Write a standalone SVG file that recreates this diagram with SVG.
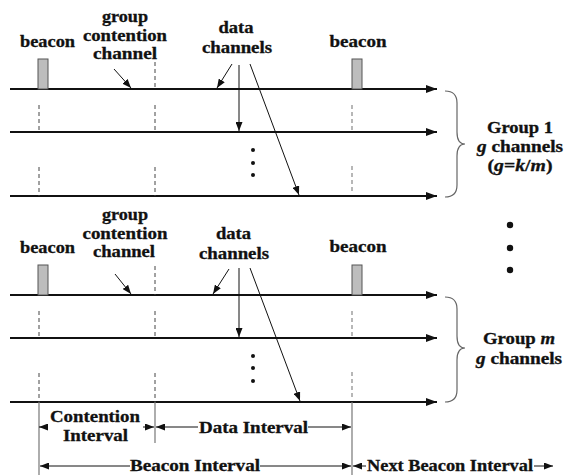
<svg xmlns="http://www.w3.org/2000/svg" width="565" height="475" viewBox="0 0 565 475">
<style>
text{font-family:"Liberation Serif","Times New Roman",serif;font-weight:bold;font-size:16px;fill:#111;stroke:#111;stroke-width:0.3;text-anchor:middle}
.ch{stroke:#111;stroke-width:1.8;fill:none}
.ds{stroke:#444;stroke-width:1;stroke-dasharray:4,3;fill:none}
.dsr{stroke:#888;stroke-width:1.2;stroke-dasharray:4,3;fill:none}
.ann{stroke:#111;stroke-width:1;fill:none}
.ext{stroke:#777;stroke-width:1.2;fill:none}
.bcn{fill:#bdbdbd;stroke:#555;stroke-width:1}
.br{stroke:#666;stroke-width:1.2;fill:none}
.dot{fill:#111}
</style>
<defs>
<marker id="big" markerUnits="userSpaceOnUse" markerWidth="11" markerHeight="8" refX="11" refY="4" orient="auto"><path d="M0,0 L11,4 L0,8 z" fill="#111"/></marker>
<marker id="sm" markerUnits="userSpaceOnUse" markerWidth="9" markerHeight="7" refX="9" refY="3.5" orient="auto"><path d="M0,0 L9,3.5 L0,7 z" fill="#111"/></marker>
</defs>

<g id="group1">
  <g id="g1-channels">
    <line class="ch" x1="10" y1="89" x2="437" y2="89" marker-end="url(#big)"/>
    <line class="ch" x1="10" y1="132" x2="437" y2="132" marker-end="url(#big)"/>
    <line class="ch" x1="10" y1="196" x2="437" y2="196" marker-end="url(#big)"/>
  </g>
  <g id="g1-beacons">
    <rect class="bcn" x="38" y="59" width="10" height="30"/>
    <rect class="bcn" x="352" y="59" width="10" height="30"/>
  </g>
  <g id="g1-dashes">
    <line class="ds" x1="39" y1="105" x2="39" y2="132"/>
    <line class="ds" x1="39" y1="167" x2="39" y2="196"/>
    <line class="ds" x1="155" y1="62" x2="155" y2="89"/>
    <line class="ds" x1="155" y1="105" x2="155" y2="132"/>
    <line class="ds" x1="155" y1="167" x2="155" y2="196"/>
    <line class="dsr" x1="352" y1="105" x2="352" y2="132"/>
    <line class="dsr" x1="352" y1="166" x2="352" y2="194"/>
  </g>
  <g id="g1-dots">
    <circle class="dot" cx="253" cy="150" r="2"/>
    <circle class="dot" cx="253" cy="163" r="2"/>
    <circle class="dot" cx="253" cy="175" r="2"/>
  </g>
  <g id="g1-labels">
    <text x="47.5" y="47" textLength="55" lengthAdjust="spacingAndGlyphs">beacon</text>
    <text x="125" y="22" textLength="46" lengthAdjust="spacingAndGlyphs">group</text>
    <text x="125" y="40.5" textLength="84" lengthAdjust="spacingAndGlyphs">contention</text>
    <text x="125" y="59" textLength="64" lengthAdjust="spacingAndGlyphs">channel</text>
    <text x="236" y="33" textLength="35" lengthAdjust="spacingAndGlyphs">data</text>
    <text x="237" y="53" textLength="70" lengthAdjust="spacingAndGlyphs">channels</text>
    <text x="358" y="47" textLength="57" lengthAdjust="spacingAndGlyphs">beacon</text>
  </g>
  <g id="g1-brace">
    <path class="br" d="M445,91 Q457,91 457,103 L457,132 Q457,144 465,144 Q457,144 457,156 L457,185 Q457,197 445,197"/>
    <text x="520" y="133" textLength="66" lengthAdjust="spacingAndGlyphs">Group 1</text>
    <text x="520" y="152" textLength="86" lengthAdjust="spacingAndGlyphs"><tspan font-style="italic">g</tspan> channels</text>
    <text x="520" y="171" textLength="65" lengthAdjust="spacingAndGlyphs">(<tspan font-style="italic">g</tspan>=<tspan font-style="italic">k</tspan>/<tspan font-style="italic">m</tspan>)</text>
  </g>
</g>

<g id="between-dots">
  <circle class="dot" cx="510" cy="225" r="3.2"/>
  <circle class="dot" cx="510" cy="248" r="3.2"/>
  <circle class="dot" cx="510" cy="270" r="3.2"/>
</g>

<g id="groupm">
  <g id="gm-channels">
    <line class="ch" x1="10" y1="295" x2="437" y2="295" marker-end="url(#big)"/>
    <line class="ch" x1="10" y1="338" x2="437" y2="338" marker-end="url(#big)"/>
    <line class="ch" x1="10" y1="402" x2="437" y2="402" marker-end="url(#big)"/>
  </g>
  <g id="gm-beacons">
    <rect class="bcn" x="38" y="265" width="10" height="30"/>
    <rect class="bcn" x="352" y="265" width="10" height="30"/>
  </g>
  <g id="gm-dashes">
    <line class="ds" x1="39" y1="311" x2="39" y2="338"/>
    <line class="ds" x1="39" y1="373" x2="39" y2="402"/>
    <line class="ds" x1="155" y1="266" x2="155" y2="295"/>
    <line class="ds" x1="155" y1="311" x2="155" y2="338"/>
    <line class="ds" x1="155" y1="373" x2="155" y2="402"/>
    <line class="dsr" x1="352" y1="311" x2="352" y2="338"/>
    <line class="dsr" x1="352" y1="372" x2="352" y2="400"/>
  </g>
  <g id="gm-dots">
    <circle class="dot" cx="253" cy="356" r="2"/>
    <circle class="dot" cx="253" cy="368" r="2"/>
    <circle class="dot" cx="253" cy="381" r="2"/>
  </g>
  <g id="gm-labels">
    <text x="47.5" y="253" textLength="55" lengthAdjust="spacingAndGlyphs">beacon</text>
    <text x="125" y="220" textLength="46" lengthAdjust="spacingAndGlyphs">group</text>
    <text x="125" y="238.5" textLength="85" lengthAdjust="spacingAndGlyphs">contention</text>
    <text x="124" y="257" textLength="62" lengthAdjust="spacingAndGlyphs">channel</text>
    <text x="233.5" y="239" textLength="35" lengthAdjust="spacingAndGlyphs">data</text>
    <text x="234" y="259" textLength="70" lengthAdjust="spacingAndGlyphs">channels</text>
    <text x="358" y="252" textLength="57" lengthAdjust="spacingAndGlyphs">beacon</text>
  </g>
  <g id="gm-brace">
    <path class="br" d="M445,297 Q457,297 457,309 L457,336 Q457,348 465,348 Q457,348 457,360 L457,390 Q457,402 445,402"/>
    <text x="519" y="344" textLength="72" lengthAdjust="spacingAndGlyphs">Group <tspan font-style="italic">m</tspan></text>
    <text x="519" y="364" textLength="86" lengthAdjust="spacingAndGlyphs"><tspan font-style="italic">g</tspan> channels</text>
  </g>
</g>

<g id="connectors">
  <line class="ann" x1="114" y1="69" x2="131" y2="88" marker-end="url(#sm)"/>
  <line class="ann" x1="232" y1="64" x2="217" y2="88" marker-end="url(#sm)"/>
  <line class="ann" x1="239" y1="65" x2="239" y2="131" marker-end="url(#sm)"/>
  <line class="ann" x1="250" y1="64" x2="299" y2="195" marker-end="url(#sm)"/>
  <line class="ann" x1="115" y1="274" x2="131" y2="294" marker-end="url(#sm)"/>
  <line class="ann" x1="229" y1="269" x2="213" y2="294" marker-end="url(#sm)"/>
  <line class="ann" x1="239" y1="268" x2="239" y2="337" marker-end="url(#sm)"/>
  <line class="ann" x1="250" y1="268" x2="300" y2="401" marker-end="url(#sm)"/>
</g>

<g id="intervals">
  <line class="ext" x1="39" y1="402" x2="39" y2="475"/>
  <line class="ext" x1="155" y1="402" x2="155" y2="443"/>
  <line class="ext" x1="352" y1="402" x2="352" y2="475"/>
  <g id="contention-interval">
    <line class="ann" x1="47" y1="427" x2="39" y2="427" marker-end="url(#sm)"/>
    <line class="ann" x1="143" y1="427" x2="154" y2="427" marker-end="url(#sm)"/>
    <text x="95" y="422" textLength="90" lengthAdjust="spacingAndGlyphs">Contention</text>
    <text x="95.5" y="441" textLength="65" lengthAdjust="spacingAndGlyphs">Interval</text>
  </g>
  <g id="data-interval">
    <line class="ann" x1="198" y1="427" x2="156" y2="427" marker-end="url(#sm)"/>
    <line class="ann" x1="308" y1="427" x2="351" y2="427" marker-end="url(#sm)"/>
    <text x="253.5" y="433" textLength="109" lengthAdjust="spacingAndGlyphs">Data Interval</text>
  </g>
  <g id="beacon-interval">
    <line class="ann" x1="130" y1="466" x2="40" y2="466" marker-end="url(#sm)"/>
    <line class="ann" x1="260" y1="466" x2="351" y2="466" marker-end="url(#sm)"/>
    <text x="195" y="471" textLength="130" lengthAdjust="spacingAndGlyphs">Beacon Interval</text>
  </g>
  <g id="next-beacon-interval">
    <line class="ann" x1="366" y1="466" x2="353" y2="466" marker-end="url(#sm)"/>
    <line class="ann" x1="534" y1="466" x2="553" y2="466" marker-end="url(#sm)"/>
    <text x="450" y="471" textLength="166" lengthAdjust="spacingAndGlyphs">Next Beacon Interval</text>
  </g>
</g>
</svg>
